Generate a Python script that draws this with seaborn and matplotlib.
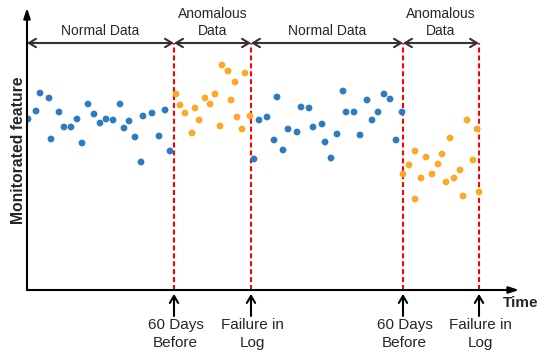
import pandas as pd
import matplotlib
matplotlib.use("Agg")
import matplotlib.pyplot as plt
import seaborn as sns

normal1_t = [1, 9, 13, 22, 24, 32, 37, 44, 50, 55, 61, 67, 73, 79, 86, 93, 97, 102, 108, 114, 116, 125, 132, 138, 143]
normal1_v = [171, 179, 197, 192, 151, 178, 163, 163, 171, 147, 186, 176, 167, 171, 170, 186, 162, 169, 153, 128, 174, 177, 154, 180, 139]

anom1_t = [149, 153, 158, 165, 168, 172, 178, 183, 188, 193, 195, 201, 204, 208, 210, 215, 218, 223]
anom1_v = [196, 185, 177, 157, 182, 170, 192, 186, 196, 164, 225, 219, 190, 208, 173, 161, 217, 174]

normal2_t = [227, 232, 240, 247, 250, 256, 261, 270, 274, 282, 286, 295, 298, 304, 310, 316, 319, 327, 333, 340, 345, 351, 357, 363, 369, 375]
normal2_v = [131, 170, 173, 150, 193, 140, 161, 158, 183, 182, 163, 166, 148, 132, 156, 199, 178, 178, 155, 190, 170, 178, 196, 191, 150, 178]

anom2_t = [376, 382, 388, 388, 394, 399, 405, 411, 415, 419, 423, 427, 433, 436, 440, 446, 450, 452]
anom2_v = [116, 125, 139, 91, 112, 133, 116, 126, 136, 108, 152, 112, 120, 94, 170, 130, 161, 98]

# segment boundaries: start, 60 days before, failure, 60 days before, failure
bounds = [0, 147, 224, 376, 452]
seg_labels = ["Normal Data", "Anomalous\nData", "Normal Data", "Anomalous\nData"]
event_times = [147, 224, 376, 452]
event_labels = ["60 Days\nBefore", "Failure in\nLog", "60 Days\nBefore", "Failure in\nLog"]

df = pd.concat([
    pd.DataFrame({"time": normal1_t, "value": normal1_v, "kind": "normal"}),
    pd.DataFrame({"time": anom1_t, "value": anom1_v, "kind": "anomalous"}),
    pd.DataFrame({"time": normal2_t, "value": normal2_v, "kind": "normal"}),
    pd.DataFrame({"time": anom2_t, "value": anom2_v, "kind": "anomalous"}),
])

sns.set_style("white")
plt.rcParams["font.family"] = ["Liberation Sans", "DejaVu Sans"]

fig = plt.figure(figsize=(5.5, 3.6), dpi=100)
ax = fig.add_axes([27 / 550, 70 / 360, 492 / 550, 282 / 360])

blue = "#2e7bc0"
orange = "#ffa726"
top_y = 247

# red dashed event lines
ax.vlines(event_times, 0, top_y, colors="#ff0000", linestyles=(0, (2.4, 1.4)), lw=1.5, zorder=1)

sns.scatterplot(data=df, x="time", y="value", hue="kind",
                palette={"normal": blue, "anomalous": orange},
                s=24, linewidth=0, legend=False, ax=ax, zorder=3)

# double arrows over each segment
for i in range(len(seg_labels)):
    ax.annotate("", xy=(bounds[i], top_y), xytext=(bounds[i + 1], top_y),
                arrowprops=dict(arrowstyle="<->,head_length=0.5,head_width=0.3",
                                color="#333333", lw=1.5, shrinkA=0, shrinkB=0))
    ax.text((bounds[i] + bounds[i + 1]) / 2, top_y + 5, seg_labels[i],
            ha="center", va="bottom", fontsize=10, linespacing=1.25)

# axes with arrowheads
ax.set_xlim(0, 492)
ax.set_ylim(0, 282)
for s in ax.spines.values():
    s.set_visible(False)
ax.set_xticks([])
ax.set_yticks([])
ax.set_xlabel("")
ax.set_ylabel("")
ax.annotate("", xy=(1, 0), xytext=(0, 0), xycoords="axes fraction",
            arrowprops=dict(arrowstyle="-|>,head_length=0.6,head_width=0.2",
                            color="black", lw=1.5, shrinkA=0, shrinkB=0))
ax.annotate("", xy=(0, 1), xytext=(0, 0), xycoords="axes fraction",
            arrowprops=dict(arrowstyle="-|>,head_length=0.6,head_width=0.2",
                            color="black", lw=1.5, shrinkA=0, shrinkB=0))

# event markers below the time axis
tr = ax.get_xaxis_transform()
for t, lab in zip(event_times, event_labels):
    ax.annotate("", xy=(t, -0.014), xytext=(t, -0.092), xycoords=tr,
                arrowprops=dict(arrowstyle="->,head_length=0.5,head_width=0.3",
                                color="black", lw=1.5, shrinkA=0, shrinkB=0))
    ax.text(t + 1.5, -0.1, lab, transform=tr, ha="center", va="top",
            fontsize=11, linespacing=1.35)

ax.text(0.9675, -0.045, "Time", transform=ax.transAxes, ha="left", va="center",
        fontsize=11, fontweight="bold")
fig.text(18.3 / 550, 1 - 150 / 360, "Monitorated feature", rotation=90,
         ha="center", va="center", fontsize=11.3, fontweight="bold")

fig.savefig("out.png", dpi=100)
